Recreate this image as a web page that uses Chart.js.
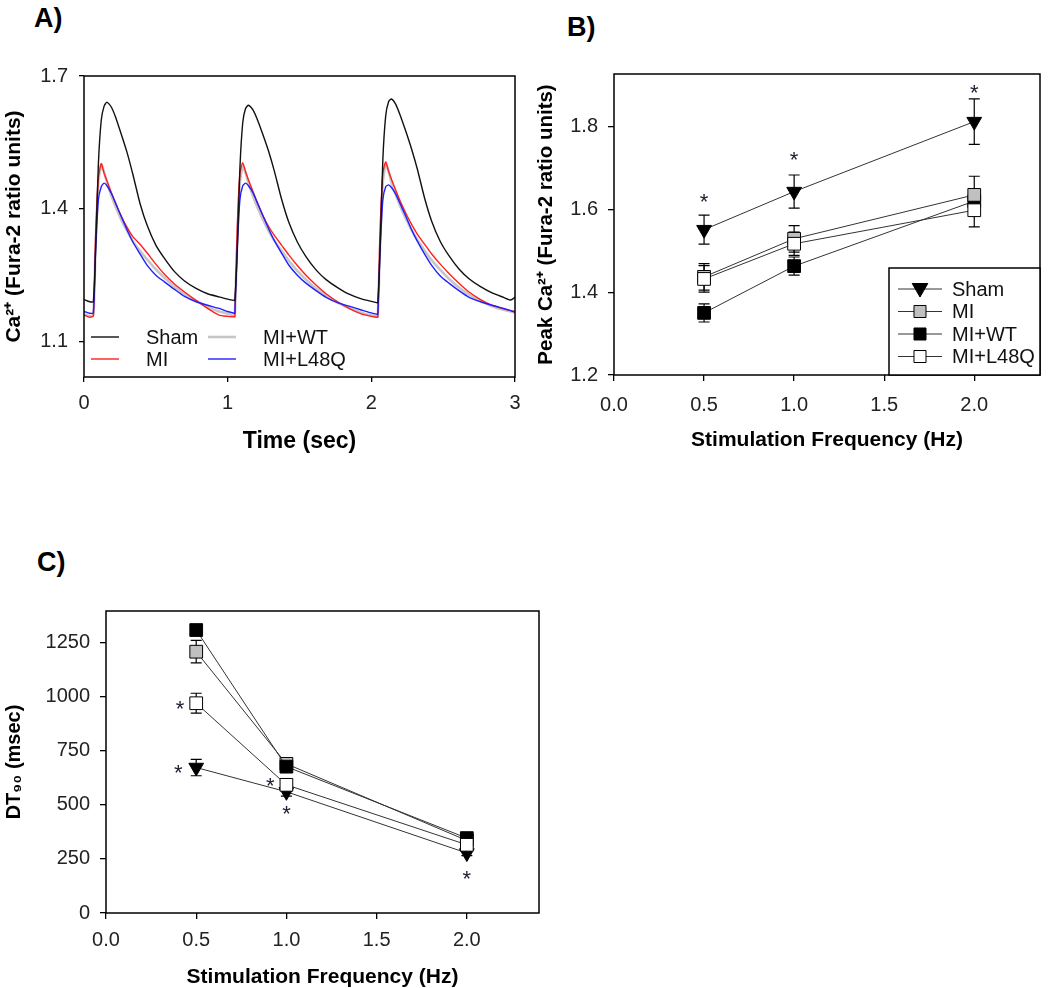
<!DOCTYPE html>
<html>
<head>
<meta charset="utf-8">
<script src="https://cdn.jsdelivr.net/npm/chart.js@4.4.1/dist/chart.umd.min.js"></script>
<style>
  html, body { margin: 0; padding: 0; background: #fff; }
  body { width: 1050px; height: 988px; position: relative; overflow: hidden; }
  canvas { position: absolute; }
  .panel { position: absolute; font: bold 27px 'Liberation Sans', Arial, sans-serif; line-height: 1; color: #000; }
</style>
</head>
<body>
<div class="panel" style="left:34px;top:5px">A)</div>
<div class="panel" style="left:567px;top:14px">B)</div>
<div class="panel" style="left:37px;top:549px">C)</div>
<canvas id="chartA" width="530" height="470" style="left:0;top:0"></canvas>
<canvas id="chartB" width="520" height="470" style="left:530px;top:0"></canvas>
<canvas id="chartC" width="560" height="448" style="left:0;top:540px"></canvas>
<script>
/* ── Panel A: averaged Ca2+ transients (Fura-2 ratio) at 1 Hz ── */
const traceTime = [
  0, 0.04, 0.065, 0.08, 0.10, 0.12, 0.14, 0.16, 0.19, 0.22, 0.26, 0.30, 0.34, 0.39, 0.44, 0.50, 0.56, 0.63, 0.70, 0.78, 0.86, 0.94, 1.00, 1.045,
  1.05, 1.065, 1.085, 1.105, 1.125, 1.145, 1.175, 1.205, 1.245, 1.285, 1.325, 1.375, 1.425, 1.485, 1.545, 1.615, 1.685, 1.765, 1.845, 1.925, 1.985, 2.035,
  2.045, 2.06, 2.08, 2.10, 2.12, 2.14, 2.17, 2.20, 2.24, 2.28, 2.32, 2.37, 2.42, 2.48, 2.54, 2.61, 2.68, 2.76, 2.84, 2.92, 2.97, 3.00
];
const traceSham = [
  1.195, 1.19, 1.19, 1.30, 1.50, 1.60, 1.632, 1.641, 1.630, 1.607, 1.568, 1.527, 1.478, 1.412, 1.362, 1.318, 1.288, 1.258, 1.237, 1.220, 1.208, 1.201, 1.196, 1.193,
  1.193, 1.29, 1.49, 1.595, 1.627, 1.634, 1.624, 1.603, 1.568, 1.530, 1.485, 1.422, 1.370, 1.325, 1.292, 1.262, 1.240, 1.222, 1.207, 1.197, 1.192, 1.188,
  1.188, 1.30, 1.51, 1.61, 1.642, 1.648, 1.636, 1.612, 1.575, 1.535, 1.490, 1.425, 1.372, 1.326, 1.294, 1.264, 1.242, 1.224, 1.210, 1.200, 1.194, 1.200
];
const traceMI = [
  1.160, 1.155, 1.158, 1.33, 1.47, 1.502, 1.48, 1.463, 1.437, 1.412, 1.383, 1.358, 1.337, 1.320, 1.300, 1.275, 1.252, 1.230, 1.212, 1.193, 1.175, 1.160, 1.157, 1.156,
  1.156, 1.34, 1.48, 1.504, 1.483, 1.465, 1.440, 1.415, 1.385, 1.360, 1.340, 1.318, 1.296, 1.272, 1.250, 1.228, 1.208, 1.190, 1.175, 1.163, 1.158, 1.155,
  1.155, 1.34, 1.48, 1.506, 1.485, 1.467, 1.442, 1.418, 1.390, 1.365, 1.343, 1.320, 1.298, 1.275, 1.254, 1.232, 1.212, 1.195, 1.182, 1.174, 1.170, 1.168
];
const traceWT = [
  1.162, 1.158, 1.160, 1.31, 1.46, 1.500, 1.483, 1.460, 1.430, 1.405, 1.375, 1.350, 1.327, 1.305, 1.285, 1.263, 1.244, 1.224, 1.207, 1.192, 1.178, 1.168, 1.163, 1.158,
  1.158, 1.31, 1.46, 1.495, 1.482, 1.458, 1.430, 1.405, 1.376, 1.350, 1.328, 1.305, 1.283, 1.260, 1.240, 1.220, 1.203, 1.188, 1.176, 1.166, 1.160, 1.157,
  1.157, 1.31, 1.46, 1.500, 1.485, 1.460, 1.432, 1.407, 1.378, 1.352, 1.330, 1.306, 1.284, 1.262, 1.242, 1.222, 1.206, 1.192, 1.180, 1.172, 1.168, 1.166
];
const traceL48Q = [
  1.168, 1.164, 1.165, 1.30, 1.42, 1.450, 1.458, 1.452, 1.435, 1.413, 1.382, 1.352, 1.325, 1.298, 1.272, 1.250, 1.235, 1.218, 1.202, 1.190, 1.182, 1.175, 1.168, 1.164,
  1.164, 1.30, 1.42, 1.452, 1.458, 1.452, 1.437, 1.415, 1.385, 1.355, 1.328, 1.300, 1.273, 1.250, 1.232, 1.215, 1.200, 1.188, 1.180, 1.172, 1.166, 1.162,
  1.162, 1.30, 1.42, 1.450, 1.454, 1.448, 1.433, 1.412, 1.383, 1.353, 1.327, 1.298, 1.272, 1.248, 1.232, 1.215, 1.200, 1.190, 1.182, 1.175, 1.170, 1.166
];
const timeTicks = [0, 1, 2, 3];
const ratioTicks = [1.1, 1.4, 1.7];

/* ── Panels B & C: vs stimulation frequency ── */
const groups = ['Sham', 'MI', 'MI+WT', 'MI+L48Q'];
const freqHz = [0.5, 1.0, 2.0];
const freqTicks = [0, 0.5, 1.0, 1.5, 2.0];

const peakSham = [1.551, 1.643, 1.812];
const peakShamErr = [0.035, 0.040, 0.055];
const peakMI = [1.437, 1.529, 1.635];
const peakMIErr = [0.032, 0.032, 0.045];
const peakWT = [1.350, 1.463, 1.620];
const peakWTErr = [0.022, 0.022, 0.030];
const peakL48Q = [1.432, 1.517, 1.598];
const peakL48QErr = [0.032, 0.028, 0.040];
const peakTicks = [1.2, 1.4, 1.6, 1.8];
const peakStarX = [0.5, 1.0, 2.0];
const peakStarY = [1.631, 1.732, 1.895];

const dtSham = [672, 560, 277];
const dtShamErr = [38, 20, 12];
const dtMI = [1207, 689, 335];
const dtMIErr = [52, 20, 12];
const dtWT = [1307, 676, 346];
const dtWTErr = [25, 20, 12];
const dtL48Q = [969, 592, 315];
const dtL48QErr = [46, 20, 12];
const dt90Ticks = [0, 250, 500, 750, 1000, 1250];
const dtStarX = [0.41, 0.40, 0.91, 1.0, 2.0];
const dtStarY = [969, 672, 615, 484, 184];

const FONT = "'Liberation Sans', Arial, sans-serif";

const pts = (xs, ys) => xs.map((x, i) => ({ x, y: ys[i] }));
const fixedTicks = vals => scale => { scale.ticks = vals.map(v => ({ value: v })); };

// full frame round the plot area
const boxPlugin = {
  id: 'box',
  afterDatasetsDraw(chart) {
    const { ctx, chartArea: a } = chart;
    ctx.save();
    ctx.strokeStyle = '#000';
    ctx.lineWidth = 1.5;
    ctx.strokeRect(a.left, a.top, a.right - a.left, a.bottom - a.top);
    ctx.restore();
  }
};

function errorBars(xs, sets) {
  return {
    id: 'errbars',
    beforeDatasetsDraw(chart) {
      const { ctx, scales: { x, y } } = chart;
      ctx.save();
      ctx.strokeStyle = '#000';
      ctx.lineWidth = 1.2;
      sets.forEach(([vals, errs]) => {
        vals.forEach((v, i) => {
          const px = x.getPixelForValue(xs[i]);
          const top = y.getPixelForValue(v + errs[i]);
          const bot = y.getPixelForValue(v - errs[i]);
          ctx.beginPath();
          ctx.moveTo(px, top); ctx.lineTo(px, bot);
          ctx.moveTo(px - 5.5, top); ctx.lineTo(px + 5.5, top);
          ctx.moveTo(px - 5.5, bot); ctx.lineTo(px + 5.5, bot);
          ctx.stroke();
        });
      });
      ctx.restore();
    }
  };
}

function stars(xs, ys) {
  return {
    id: 'stars',
    afterDatasetsDraw(chart) {
      const { ctx, scales: { x, y } } = chart;
      ctx.save();
      ctx.fillStyle = '#1c1c30';
      ctx.font = '22px ' + FONT;
      ctx.textAlign = 'center';
      ctx.textBaseline = 'alphabetic';
      xs.forEach((v, i) => {
        ctx.fillText('*', x.getPixelForValue(v), y.getPixelForValue(ys[i]) + 0.58 * 22);
      });
      ctx.restore();
    }
  };
}

function drawMarker(ctx, kind, x, y, r, fill) {
  ctx.save();
  ctx.fillStyle = fill;
  ctx.strokeStyle = '#000';
  ctx.lineWidth = 1;
  ctx.beginPath();
  if (kind === 'tri') {
    ctx.moveTo(x - r * 0.866, y - r * 0.5);
    ctx.lineTo(x + r * 0.866, y - r * 0.5);
    ctx.lineTo(x, y + r);
    ctx.closePath();
  } else {
    const s = r * Math.SQRT1_2;
    ctx.rect(x - s, y - s, 2 * s, 2 * s);
  }
  ctx.fill();
  ctx.stroke();
  ctx.restore();
}

const traceColors = ['#111', '#ff1f1f', '#c6c6c6', '#2020ff'];
const traceWidths = [1.4, 1.4, 2.6, 1.4];

// two-column legend, lower left inside panel A
const legendA = {
  id: 'legendA',
  afterDraw(chart) {
    const { ctx, chartArea: a } = chart;
    ctx.save();
    ctx.font = '20px ' + FONT;
    ctx.fillStyle = '#111';
    ctx.textBaseline = 'middle';
    const slots = [[0, 0], [0, 1], [1, 0], [1, 1]];
    groups.forEach((g, i) => {
      const [col, row] = slots[i];
      const lx = a.left + 7 + col * 117;
      const ly = a.bottom - 40 + row * 22;
      ctx.strokeStyle = traceColors[i];
      ctx.lineWidth = traceWidths[i];
      ctx.beginPath(); ctx.moveTo(lx, ly); ctx.lineTo(lx + 28, ly); ctx.stroke();
      ctx.fillText(g, lx + 55, ly + 1);
    });
    ctx.restore();
  }
};

const markerKinds = ['tri', 'rect', 'rect', 'rect'];
const markerFills = ['#000', '#c0c0c0', '#000', '#fff'];

// boxed legend, lower right inside panel B
const legendB = {
  id: 'legendB',
  afterDraw(chart) {
    const { ctx, chartArea: a } = chart;
    const bx = a.right - 151, by = a.bottom - 107;
    ctx.save();
    ctx.fillStyle = '#fff';
    ctx.fillRect(bx, by, a.right - bx, a.bottom - by);
    ctx.strokeStyle = '#000';
    ctx.lineWidth = 1.5;
    ctx.strokeRect(bx, by, a.right - bx, a.bottom - by);
    ctx.font = '20px ' + FONT;
    ctx.textBaseline = 'middle';
    groups.forEach((g, i) => {
      const ly = by + 21 + i * 22.5;
      ctx.strokeStyle = '#333';
      ctx.lineWidth = 1;
      ctx.beginPath(); ctx.moveTo(bx + 9, ly); ctx.lineTo(bx + 53, ly); ctx.stroke();
      drawMarker(ctx, markerKinds[i], bx + 31, i === 0 ? ly - 1 : ly, i === 0 ? 9 : 8.5, markerFills[i]);
      ctx.fillStyle = '#111';
      ctx.fillText(g, bx + 63, ly + 1);
    });
    ctx.restore();
  }
};

function axisX(min, max, tickVals, fmt, size, pad, tl, h, titleText, titleSize, titleLH, titlePad) {
  return {
    type: 'linear', min, max,
    afterBuildTicks: fixedTicks(tickVals),
    afterFit: s => { s.height = h; },
    grid: { drawOnChartArea: false, drawTicks: true, tickLength: tl, color: '#000', lineWidth: 1.3 },
    border: { display: false },
    ticks: { font: { family: FONT, size }, color: '#222', padding: pad, maxRotation: 0, autoSkip: false, callback: fmt },
    title: { display: true, text: titleText, color: '#000',
      font: { family: FONT, size: titleSize, weight: 'bold', lineHeight: titleLH },
      padding: { top: 0, bottom: titlePad } }
  };
}

function axisY(min, max, tickVals, fmt, size, pad, tl, w, titleText, titleSize, titlePad) {
  return {
    type: 'linear', min, max,
    afterBuildTicks: fixedTicks(tickVals),
    afterFit: s => { s.width = w; },
    grid: { drawOnChartArea: false, drawTicks: true, tickLength: tl, color: '#000', lineWidth: 1.3 },
    border: { display: false },
    ticks: { font: { family: FONT, size }, color: '#222', padding: pad, autoSkip: false, callback: fmt },
    title: { display: true, text: titleText, color: '#000',
      font: { family: FONT, size: titleSize, weight: 'bold', lineHeight: 1.2 },
      padding: { top: titlePad, bottom: 0 } }
  };
}

const baseOpts = {
  responsive: false,
  animation: false,
  devicePixelRatio: 1,
  events: [],
  plugins: { legend: { display: false }, tooltip: { enabled: false } }
};

/* Panel A */
const traceSets = [traceSham, traceMI, traceWT, traceL48Q];
const traceOrder = [0, 2, 3, 1];
new Chart(document.getElementById('chartA'), {
  type: 'line',
  data: {
    datasets: traceSets.map((vals, i) => ({
      label: groups[i],
      data: pts(traceTime, vals),
      borderColor: traceColors[i],
      borderWidth: traceWidths[i],
      pointRadius: 0,
      tension: 0.2,
      order: traceOrder[i]
    }))
  },
  options: {
    ...baseOpts,
    layout: { padding: { top: 76, right: 15, bottom: 0, left: 0 } },
    scales: {
      x: axisX(0, 3, timeTicks, v => String(v), 20, 9, 5, 93, 'Time (sec)', 23, 1.2, 15),
      y: axisY(1.02, 1.7, ratioTicks, v => v.toFixed(1), 20, 11, 5, 84, 'Ca²⁺ (Fura-2 ratio units)', 21, 2)
    }
  },
  plugins: [boxPlugin, legendA]
});

function freqDatasets(series, orders) {
  return series.map((vals, i) => ({
    label: groups[i],
    data: pts(freqHz, vals),
    borderColor: '#333',
    borderWidth: 1,
    pointStyle: i === 0 ? 'triangle' : 'rect',
    rotation: i === 0 ? 180 : 0,
    pointRadius: i === 0 ? 8.5 : 9,
    pointBackgroundColor: markerFills[i],
    pointBorderColor: '#000',
    pointBorderWidth: 1,
    tension: 0,
    order: orders[i]
  }));
}

/* Panel B */
new Chart(document.getElementById('chartB'), {
  type: 'line',
  data: { datasets: freqDatasets([peakSham, peakMI, peakWT, peakL48Q], [0, 2, 3, 1]) },
  options: {
    ...baseOpts,
    layout: { padding: { top: 74, right: 8, bottom: 0, left: 0 } },
    scales: {
      x: axisX(0, 2.365, freqTicks, v => v.toFixed(1), 20, 12, 6, 95, 'Stimulation Frequency (Hz)', 21, 1.2, 17),
      y: axisY(1.2, 1.927, peakTicks, v => v.toFixed(1), 20, 10, 6, 84, 'Peak Ca²⁺ (Fura-2 ratio units)', 20.5, 4)
    }
  },
  plugins: [
    errorBars(freqHz, [[peakSham, peakShamErr], [peakMI, peakMIErr], [peakWT, peakWTErr], [peakL48Q, peakL48QErr]]),
    stars(peakStarX, peakStarY), boxPlugin, legendB
  ]
});

/* Panel C */
new Chart(document.getElementById('chartC'), {
  type: 'line',
  data: { datasets: freqDatasets([dtSham, dtMI, dtWT, dtL48Q], [3, 2, 1, 0]) },
  options: {
    ...baseOpts,
    layout: { padding: { top: 71, right: 21, bottom: 0, left: 0 } },
    scales: {
      x: axisX(0, 2.4, freqTicks, v => v.toFixed(1), 20, 9, 6, 75, 'Stimulation Frequency (Hz)', 21, 1.0, 0),
      y: axisY(0, 1395, dt90Ticks, v => String(v), 20, 10, 6, 106, 'DT₉₀ (msec)', 20, 2)
    }
  },
  plugins: [
    errorBars(freqHz, [[dtSham, dtShamErr], [dtMI, dtMIErr], [dtWT, dtWTErr], [dtL48Q, dtL48QErr]]),
    stars(dtStarX, dtStarY), boxPlugin
  ]
});
</script>
</body>
</html>
